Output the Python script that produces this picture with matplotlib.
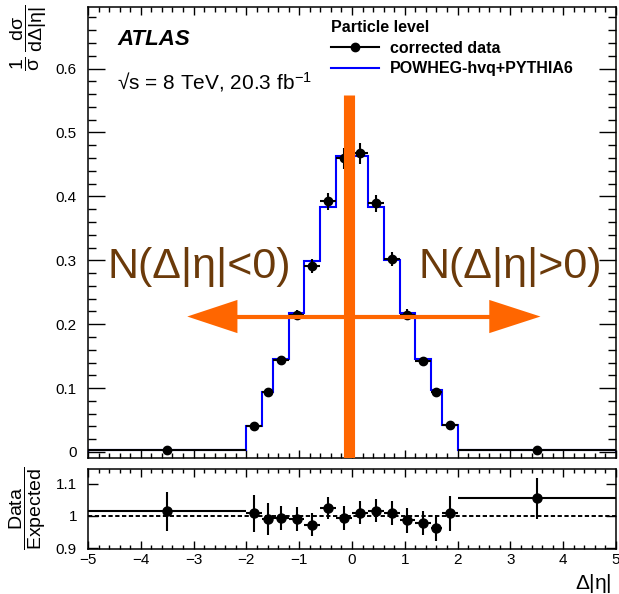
import numpy as np
import matplotlib.pyplot as plt
from matplotlib.patches import Polygon
from matplotlib.lines import Line2D
from matplotlib.ticker import MultipleLocator, FuncFormatter

plt.rcParams['font.family'] = ['Liberation Sans', 'DejaVu Sans']
plt.rcParams['mathtext.fontset'] = 'custom'
plt.rcParams['mathtext.rm'] = 'Liberation Sans'
plt.rcParams['mathtext.it'] = 'Liberation Sans'
plt.rcParams['mathtext.bf'] = 'Liberation Sans:bold'
plt.rcParams['axes.linewidth'] = 1.1

# bin edges in delta|eta|
edges = np.array([-5, -2, -1.7, -1.5, -1.2, -0.9, -0.6, -0.3, 0,
                  0.3, 0.6, 0.9, 1.2, 1.5, 1.7, 2, 5])
# POWHEG-hvq+PYTHIA6 prediction, normalised
powheg = np.array([0.0035, 0.041, 0.094, 0.145, 0.217, 0.299, 0.383, 0.463,
                   0.463, 0.383, 0.300, 0.218, 0.1455, 0.097, 0.0425, 0.0035])
# unfolded data, normalised
data = np.array([0.00355, 0.0413, 0.0932, 0.1441, 0.2146, 0.2906, 0.3922, 0.4598,
                 0.4676, 0.3891, 0.3024, 0.2149, 0.1423, 0.0933, 0.0428, 0.00369])
# relative uncertainty on data
rel_err = np.array([0.060, 0.058, 0.050, 0.038, 0.038, 0.037, 0.033, 0.036,
                    0.035, 0.035, 0.037, 0.040, 0.039, 0.043, 0.054, 0.060])

centers = 0.5 * (edges[:-1] + edges[1:])
half = 0.5 * np.diff(edges)
ratio = data / powheg

orange = '#ff6600'
brown = '#6b3a0a'


def fmt(v, _):
    return f'{v:g}'.replace('-', '\u2212')


fig = plt.figure(figsize=(6.19, 5.94), dpi=100)
ax1 = fig.add_axes([88 / 619, 1 - 458 / 594, 528 / 619, 451 / 594])
ax2 = fig.add_axes([88 / 619, 1 - 549 / 594, 528 / 619, 80 / 594])

# main panel
ax1.stairs(powheg, edges, color='#0000ff', lw=1.5, zorder=2)
ax1.errorbar(centers, data, xerr=half, yerr=data * rel_err, fmt='o', color='k',
             ms=6, lw=1.5, capsize=0, zorder=3)
ax1.set_xlim(-5, 5)
ax1.set_ylim(-0.0094, 0.6964)

ax1.xaxis.set_major_locator(MultipleLocator(1))
ax1.xaxis.set_minor_locator(MultipleLocator(0.2))
ax1.yaxis.set_major_locator(MultipleLocator(0.1))
ax1.yaxis.set_minor_locator(MultipleLocator(0.02))
ax1.yaxis.set_major_formatter(FuncFormatter(fmt))
ax1.tick_params(which='both', direction='in', top=True, right=True, width=1,
                labelbottom=False, labelsize=11)
ax1.tick_params(axis='x', which='major', length=6)
ax1.tick_params(axis='x', which='minor', length=3.5)
ax1.tick_params(axis='y', which='major', length=12, pad=8)
ax1.tick_params(axis='y', which='minor', length=6)

# ratio panel
ax2.errorbar(centers, ratio, xerr=half, yerr=ratio * rel_err, fmt='o', color='k',
             ms=6.5, lw=1.5, capsize=0, zorder=3)
ax2.axhline(1.0, color='k', lw=1.4, dashes=(2.2, 1.3), zorder=2)
ax2.set_xlim(-5, 5)
ax2.set_ylim(0.897, 1.145)
ax2.xaxis.set_major_locator(MultipleLocator(1))
ax2.xaxis.set_minor_locator(MultipleLocator(0.2))
ax2.xaxis.set_major_formatter(FuncFormatter(fmt))
ax2.yaxis.set_major_locator(MultipleLocator(0.1))
ax2.yaxis.set_major_formatter(FuncFormatter(fmt))
ax2.tick_params(which='both', direction='in', top=True, right=True, width=1,
                labelsize=11)
ax2.tick_params(axis='x', which='major', length=5.5, pad=3)
ax2.tick_params(axis='x', which='minor', length=3)
ax2.tick_params(axis='y', which='major', length=7, pad=8)

# axis titles
fig.text(0.046, 0.992, r'$\dfrac{1}{\sigma}\ \dfrac{d\sigma}{d\Delta|\eta|}$',
         rotation=90, ha='center', va='top', fontsize=14)
fig.text(0.045, 1 - 508 / 594, r'$\dfrac{\mathrm{Data}}{\mathrm{Expected}}$',
         rotation=90, ha='center', va='center', fontsize=14)
fig.text(612 / 619, 1 - 589 / 594, r'$\Delta|\eta|$', ha='right', va='baseline',
         fontsize=15)

# labels
fig.text(117 / 619, 1 - 45 / 594, 'ATLAS', weight='bold', style='italic',
         fontsize=16, va='baseline')
fig.text(117 / 619, 1 - 89 / 594, r'√s = 8 TeV, 20.3 fb$^{-1}$',
         fontsize=15, va='baseline')

handles = [Line2D([], [], color='k', lw=1.5, marker='o', ms=6),
           Line2D([], [], color='#0000ff', lw=1.5)]
leg = ax1.legend(handles, ['corrected data', 'POWHEG-hvq+PYTHIA6'],
                 title='Particle level', alignment='left', frameon=False,
                 loc='upper left', bbox_to_anchor=(331 / 619, 1 - 20 / 594),
                 bbox_transform=fig.transFigure, borderpad=0, borderaxespad=0,
                 handlelength=3.0, handletextpad=0.7, labelspacing=0.35,
                 prop={'weight': 'bold', 'size': 11.5},
                 title_fontproperties={'weight': 'bold', 'size': 11.5})

# asymmetry overlay: centre bar, double arrow and region labels
ax1.plot([-0.06, -0.06], [-0.02, 0.559], color=orange, lw=8,
         solid_capstyle='butt', zorder=5)
ax1.plot([-2.2, 2.62], [0.212, 0.212], color=orange, lw=3, zorder=5)
ax1.add_patch(Polygon([(-3.12, 0.212), (-2.17, 0.238), (-2.17, 0.186)],
                      closed=True, color=orange, lw=0, zorder=5))
ax1.add_patch(Polygon([(3.57, 0.212), (2.60, 0.238), (2.60, 0.186)],
                      closed=True, color=orange, lw=0, zorder=5))
ax1.text(-4.64, 0.272, 'N(Δ|η|<0)', color=brown, fontsize=31, va='baseline',
         ha='left', zorder=6)
ax1.text(1.255, 0.272, 'N(Δ|η|>0)', color=brown, fontsize=31, va='baseline',
         ha='left', zorder=6)

plt.savefig('out.png')
